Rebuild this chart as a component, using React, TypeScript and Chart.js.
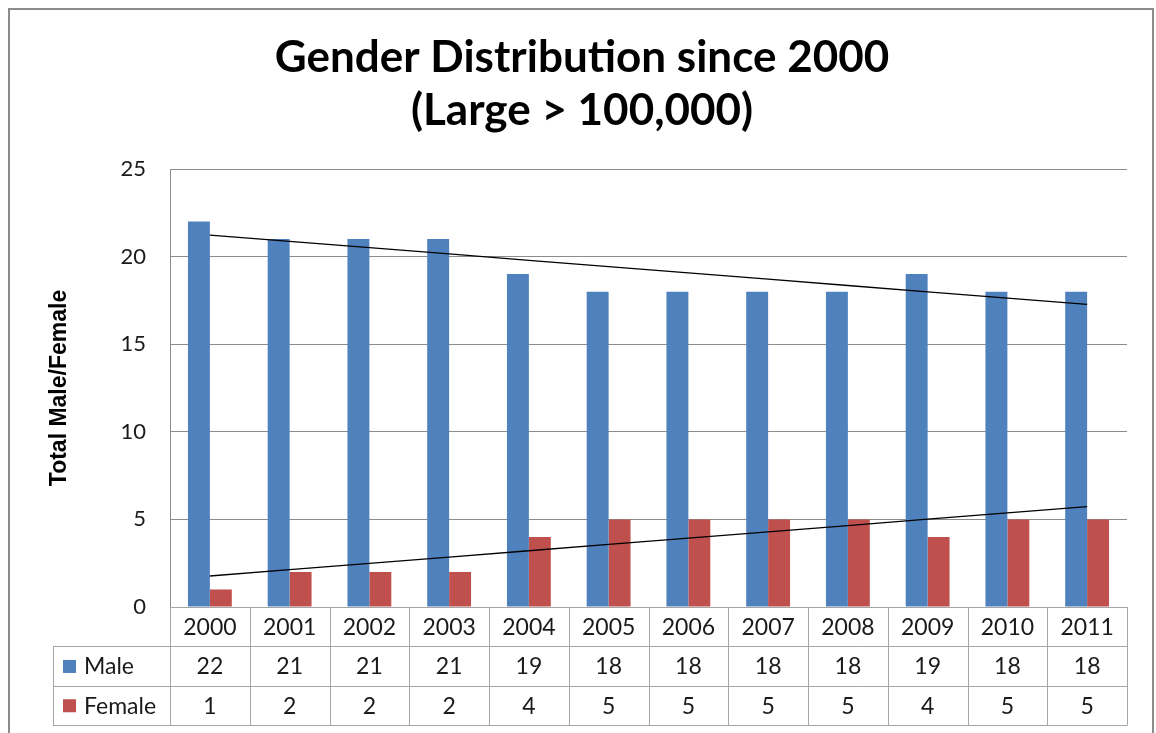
import React, { useEffect, useRef } from "react";
import { Chart, registerables } from "chart.js";

Chart.register(...registerables);

const years = ["2000", "2001", "2002", "2003", "2004", "2005", "2006", "2007", "2008", "2009", "2010", "2011"];
const male = [22, 21, 21, 21, 19, 18, 18, 18, 18, 19, 18, 18];
const female = [1, 2, 2, 2, 4, 5, 5, 5, 5, 4, 5, 5];
const titleLines = ["Gender Distribution since 2000", "(Large > 100,000)"];
const yTitle = "Total Male/Female";
const maleColor = "#4F81BD";
const femaleColor = "#C0504D";
const FONT = "Lato, 'Open Sans', sans-serif";
const ARIAL = "'Liberation Sans', Arial, sans-serif";

function trend(vals: number[]): number[] {
  const n = vals.length;
  const mx = (n - 1) / 2;
  const my = vals.reduce((a, b) => a + b, 0) / n;
  let sxy = 0, sxx = 0;
  vals.forEach((v, i) => { sxy += (i - mx) * (v - my); sxx += (i - mx) * (i - mx); });
  const b = sxy / sxx;
  const a = my - b * mx;
  return vals.map((_, i) => a + b * i);
}

const extrasPlugin = {
  id: "extras",
  afterDraw(chart: any) {
    const ctx = chart.ctx as CanvasRenderingContext2D;
    const area = chart.chartArea;
    const xs = chart.scales.x;
    const W = chart.width;
    ctx.save();
    // outer border
    ctx.strokeStyle = "#8c8c8c";
    ctx.lineWidth = 2;
    ctx.beginPath();
    ctx.moveTo(1, chart.height + 5);
    ctx.lineTo(1, 1);
    ctx.lineTo(W - 1, 1);
    ctx.lineTo(W - 1, chart.height + 5);
    ctx.stroke();

    // title
    ctx.fillStyle = "#000";
    ctx.font = `bold 44px ${FONT}`;
    ctx.textAlign = "center";
    ctx.textBaseline = "middle";
    ctx.fillText(titleLines[0], W / 2 + 1, 50);
    ctx.fillText(titleLines[1], W / 2 + 1, 103);

    // data table
    const n = years.length;
    const left = area.left;
    const right = area.right;
    const cw = (right - left) / n;
    const rh = 39.3;
    const top = area.bottom;
    const legLeft = 45;
    ctx.strokeStyle = "#a6a6a6";
    ctx.lineWidth = 1;
    ctx.beginPath();
    ctx.moveTo(left, top + 0.5); ctx.lineTo(right, top + 0.5);
    for (let r = 1; r <= 3; r++) {
      const y = Math.round(top + r * rh) + 0.5;
      ctx.moveTo(legLeft, y); ctx.lineTo(right, y);
    }
    for (let c = 0; c <= n; c++) {
      const x = Math.round(left + c * cw) + 0.5;
      ctx.moveTo(x, top); ctx.lineTo(x, Math.round(top + 3 * rh) + 0.5);
    }
    ctx.moveTo(legLeft + 0.5, Math.round(top + rh)); ctx.lineTo(legLeft + 0.5, Math.round(top + 3 * rh) + 0.5);
    ctx.stroke();

    ctx.font = `23px ${FONT}`;
    ctx.fillStyle = "#1a1a1a";
    ctx.textAlign = "center";
    for (let c = 0; c < n; c++) {
      const cx = xs.getPixelForValue(c);
      ctx.fillText(years[c], cx, top + rh / 2 + 1);
      ctx.fillText(String(male[c]), cx, top + rh * 1.5 + 1);
      ctx.fillText(String(female[c]), cx, top + rh * 2.5 + 1);
    }
    const rows: [string, string][] = [["Male", maleColor], ["Female", femaleColor]];
    rows.forEach(([label, color], i) => {
      const cy = top + rh * (1.5 + i);
      ctx.fillStyle = color;
      ctx.fillRect(55, cy - 6, 13, 13);
      ctx.fillStyle = "#1a1a1a";
      ctx.textAlign = "left";
      ctx.fillText(label, 76, cy + 1);
    });
    ctx.restore();
  },
};

export default function App() {
  const ref = useRef<HTMLCanvasElement | null>(null);
  useEffect(() => {
    if (!ref.current) return;
    const chart = new Chart(ref.current, {
      type: "bar",
      data: {
        labels: years,
        datasets: [
          { type: "line", label: "Male trend", data: trend(male), borderColor: "#000", borderWidth: 1.3, pointRadius: 0, fill: false, order: 0 } as any,
          { type: "line", label: "Female trend", data: trend(female), borderColor: "#000", borderWidth: 1.3, pointRadius: 0, fill: false, order: 0 } as any,
          { label: "Male", data: male, backgroundColor: maleColor, categoryPercentage: 0.55, barPercentage: 1, order: 1 },
          { label: "Female", data: female, backgroundColor: femaleColor, categoryPercentage: 0.55, barPercentage: 1, order: 1 },
        ],
      },
      options: {
        animation: false,
        responsive: false,
        maintainAspectRatio: false,
        layout: { padding: { top: 161, bottom: 126, right: 27, left: 30 } },
        plugins: { legend: { display: false }, tooltip: { enabled: false }, title: { display: false } },
        scales: {
          x: { display: false, offset: true },
          y: {
            min: 0,
            max: 25,
            ticks: { stepSize: 5, font: { family: FONT, size: 22 }, color: "#1a1a1a", padding: 24 },
            grid: { color: "#8c8c8c", drawTicks: false, lineWidth: 1 },
            border: { display: true, color: "#8c8c8c" },
            title: { display: true, text: yTitle, font: { family: ARIAL, size: 23, weight: "bold" }, color: "#000", padding: { top: 8, bottom: 0 } },
            afterFit: (s: any) => { s.width = 132; },
          },
        },
      },
      plugins: [extrasPlugin],
    });
    return () => chart.destroy();
  }, []);
  return (
    <div style={{ position: "absolute", left: 8, top: 8, width: 1146, height: 725 }}>
      <canvas ref={ref} width={1146} height={725} style={{ display: "block" }} />
    </div>
  );
}
